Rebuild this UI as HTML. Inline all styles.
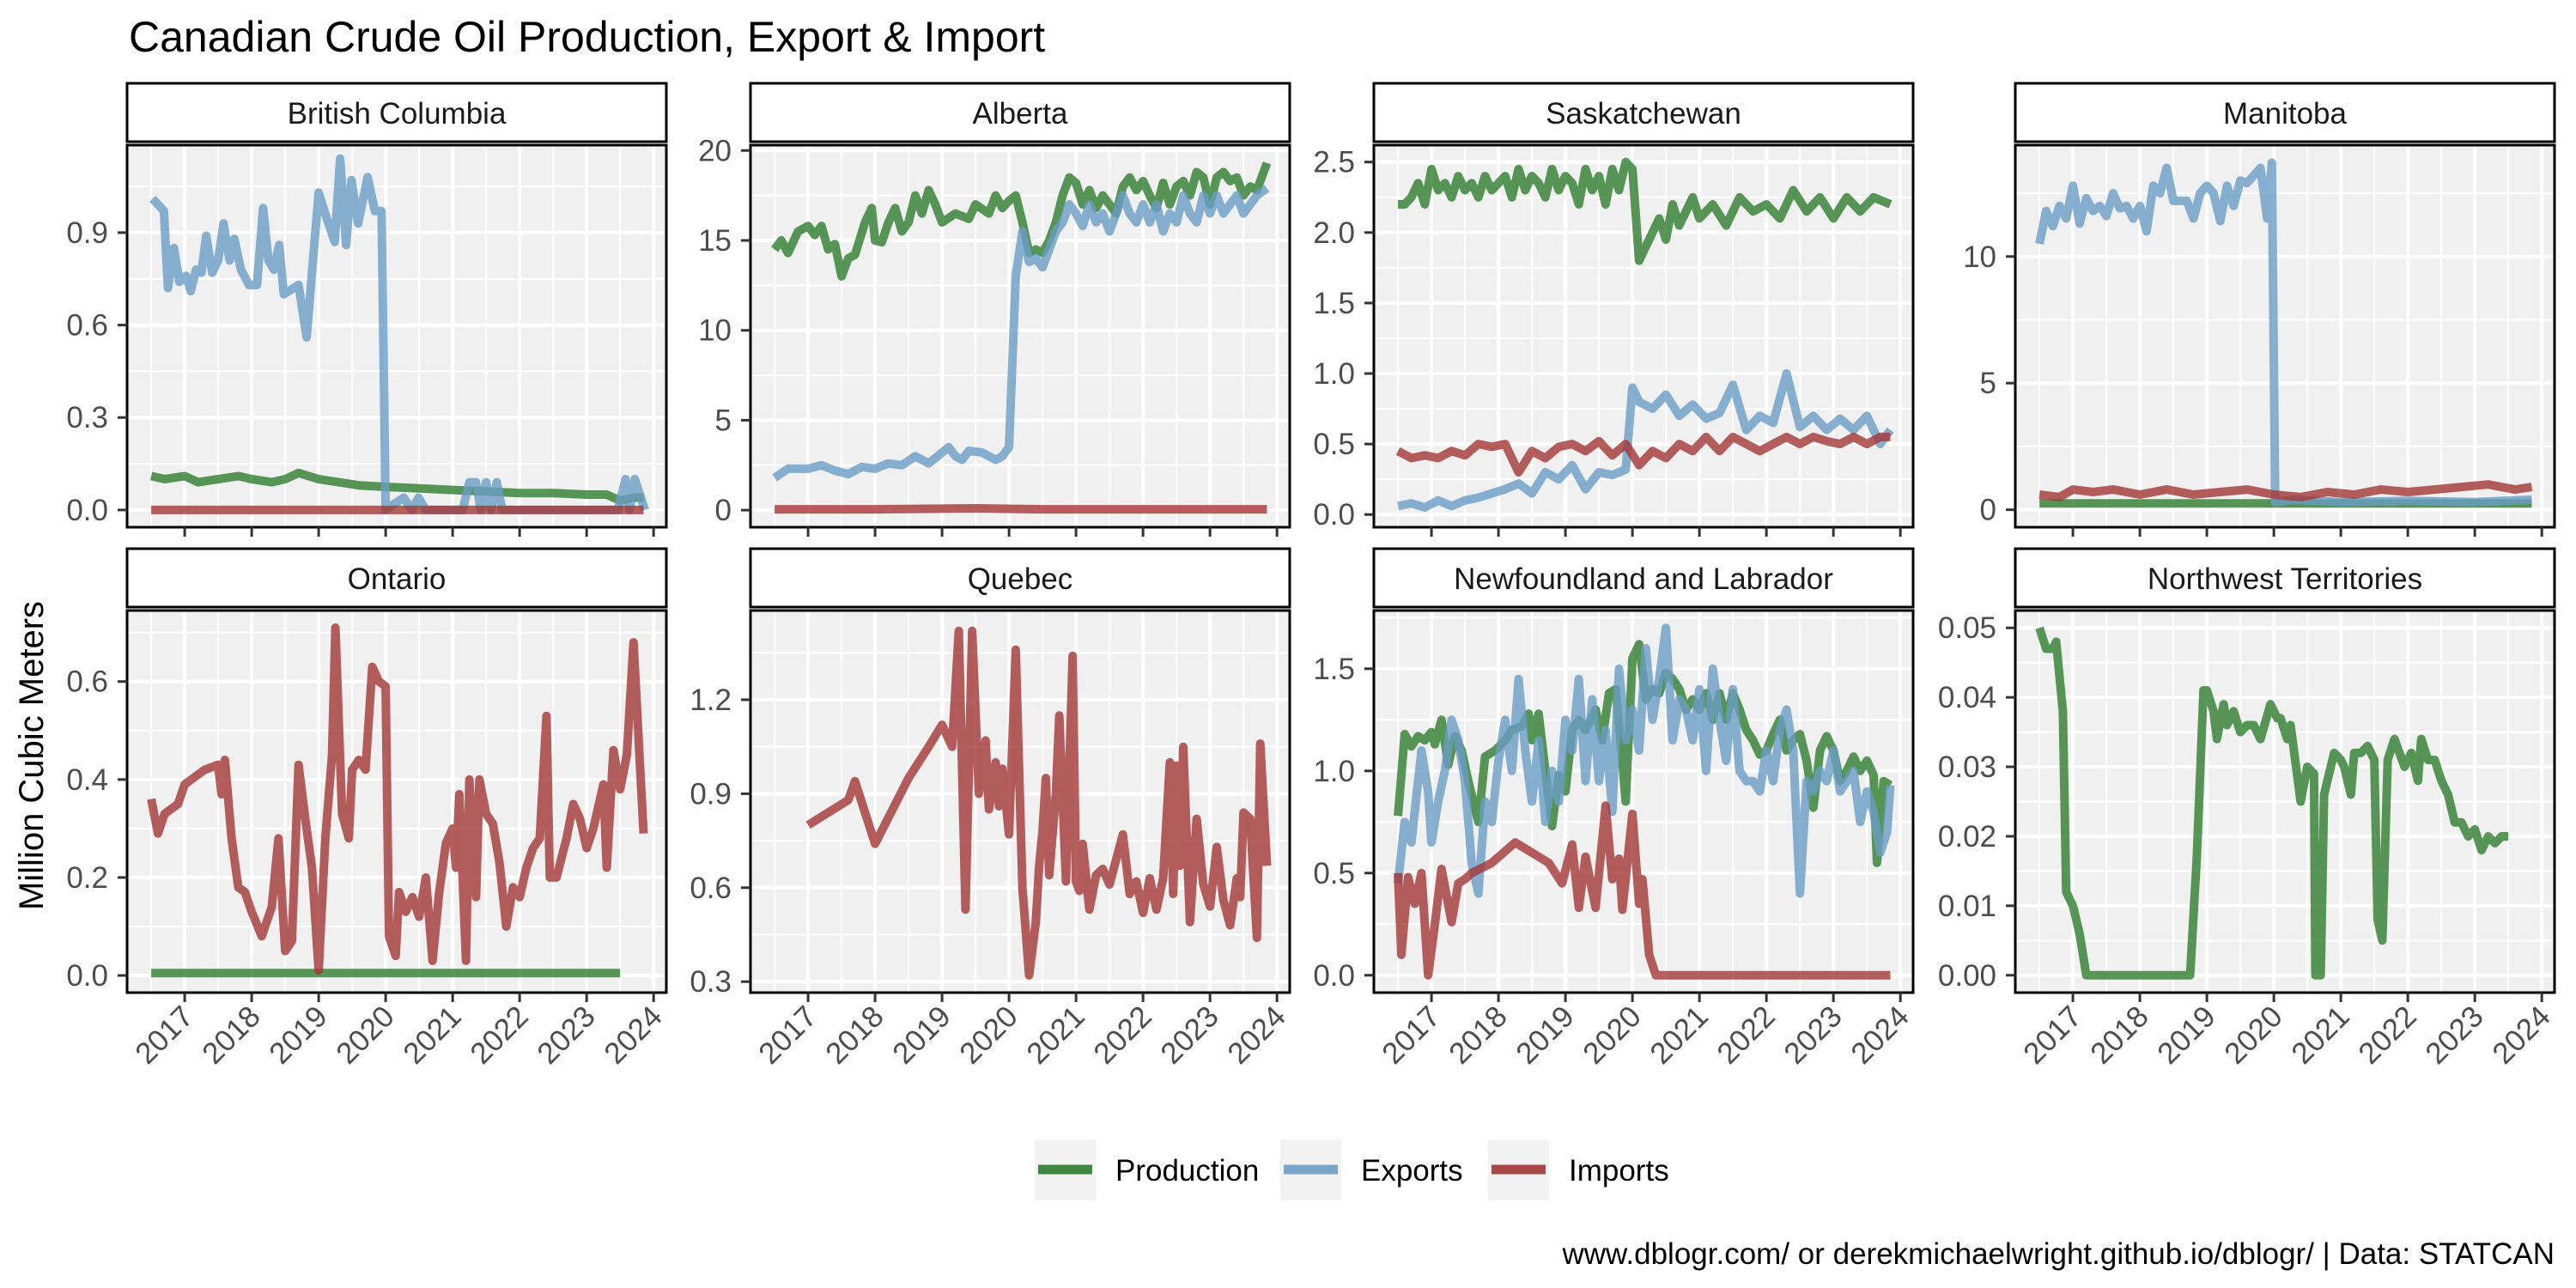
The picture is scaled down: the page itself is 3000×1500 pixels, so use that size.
<!DOCTYPE html>
<html><head><meta charset="utf-8"><style>
html,body{margin:0;padding:0;background:#fff;width:3000px;height:1500px;overflow:hidden}
svg text{font-family:"Liberation Sans",sans-serif}
</style></head><body>
<svg id="chart" xmlns="http://www.w3.org/2000/svg" width="3000" height="1500" viewBox="0 0 3000 1500">
<rect width="3000" height="1500" fill="#fff"/>
<text x="150" y="60" font-size="50" fill="#000">Canadian Crude Oil Production, Export &amp; Import</text>
<text transform="translate(50,880) rotate(-90)" text-anchor="middle" font-size="40" fill="#000">Million Cubic Meters</text>
<g id="panels"></g>
<g>
<rect x="1205" y="1327" width="71" height="71" fill="#f2f2f2"/>
<line x1="1209" y1="1362" x2="1272" y2="1362" stroke="#3f883f" stroke-width="11"/>
<text x="1299" y="1375" font-size="35" fill="#000">Production</text>
<rect x="1491" y="1327" width="71" height="71" fill="#f2f2f2"/>
<line x1="1495" y1="1362" x2="1558" y2="1362" stroke="#78a6cb" stroke-width="11"/>
<text x="1585" y="1375" font-size="35" fill="#000">Exports</text>
<rect x="1733" y="1327" width="71" height="71" fill="#f2f2f2"/>
<line x1="1737" y1="1362" x2="1800" y2="1362" stroke="#a94747" stroke-width="11"/>
<text x="1827" y="1375" font-size="35" fill="#000">Imports</text>
</g>
<text x="2975" y="1472" text-anchor="end" font-size="35" fill="#000">www.dblogr.com/ or derekmichaelwright.github.io/dblogr/ | Data: STATCAN</text>
</svg>
<script>
const panelNames = ["British Columbia","Alberta","Saskatchewan","Manitoba","Ontario","Quebec","Newfoundland and Labrador","Northwest Territories"];
const yTicks = [[0,0.3,0.6,0.9],[0,5,10,15,20],[0,0.5,1,1.5,2,2.5],[0,5,10],[0,0.2,0.4,0.6],[0.3,0.6,0.9,1.2],[0,0.5,1,1.5],[0,0.01,0.02,0.03,0.04,0.05]];
const yTickLabels = [["0.0","0.3","0.6","0.9"],["0","5","10","15","20"],["0.0","0.5","1.0","1.5","2.0","2.5"],["0","5","10"],["0.0","0.2","0.4","0.6"],["0.3","0.6","0.9","1.2"],["0.0","0.5","1.0","1.5"],["0.00","0.01","0.02","0.03","0.04","0.05"]];
const yDomains = [[-0.056,1.184],[-0.95,20.3],[-0.09,2.62],[-0.69,14.4],[-0.035,0.745],[0.265,1.485],[-0.085,1.785],[-0.0025,0.0525]];
const xYears = [2017,2018,2019,2020,2021,2022,2023,2024];
const xDomain = [2016.14,2024.19];

// BC
const bcProdX=[2016.5,2016.7,2017.0,2017.2,2017.5,2017.8,2018.0,2018.3,2018.5,2018.7,2019.0,2019.3,2019.6,2020.0,2020.5,2021.0,2021.5,2022.0,2022.5,2023.0,2023.3,2023.5,2023.7,2023.85];
const bcProdY=[0.11,0.10,0.11,0.09,0.10,0.11,0.10,0.09,0.10,0.12,0.10,0.09,0.08,0.075,0.07,0.065,0.06,0.055,0.055,0.05,0.05,0.03,0.04,0.04];
const bcExpX=[2016.52,2016.65,2016.69,2016.75,2016.84,2016.92,2017.02,2017.09,2017.17,2017.25,2017.32,2017.41,2017.5,2017.58,2017.67,2017.74,2017.84,2017.96,2018.08,2018.17,2018.25,2018.33,2018.41,2018.48,2018.7,2018.82,2019.0,2019.1,2019.24,2019.32,2019.41,2019.49,2019.59,2019.73,2019.84,2019.94,2020.0,2020.13,2020.27,2020.39,2020.49,2020.6,2021.15,2021.25,2021.35,2021.42,2021.5,2021.57,2021.66,2021.74,2023.47,2023.58,2023.64,2023.72,2023.87];
const bcExpY=[1.01,0.98,0.97,0.72,0.85,0.74,0.76,0.71,0.78,0.77,0.89,0.77,0.81,0.93,0.81,0.88,0.78,0.73,0.73,0.98,0.81,0.78,0.86,0.70,0.73,0.56,1.03,0.96,0.87,1.14,0.86,1.07,0.93,1.08,0.97,0.97,0.0,0.02,0.04,0.0,0.04,0.0,0.0,0.09,0.09,0.0,0.09,0.0,0.09,0.0,0.0,0.1,0.0,0.1,0.0];
const bcImpX=[2016.5,2023.85];
const bcImpY=[0,0];
// Alberta
const abProdX=[2016.5,2016.6,2016.7,2016.85,2017.0,2017.1,2017.2,2017.3,2017.4,2017.5,2017.6,2017.7,2017.85,2017.95,2018.0,2018.1,2018.2,2018.3,2018.4,2018.5,2018.6,2018.7,2018.8,2018.9,2019.0,2019.2,2019.4,2019.5,2019.7,2019.8,2019.9,2020.0,2020.1,2020.2,2020.3,2020.4,2020.5,2020.6,2020.7,2020.8,2020.9,2021.0,2021.1,2021.2,2021.3,2021.4,2021.5,2021.6,2021.7,2021.8,2021.9,2022.0,2022.1,2022.2,2022.3,2022.4,2022.5,2022.6,2022.7,2022.8,2022.9,2023.0,2023.1,2023.2,2023.3,2023.4,2023.5,2023.6,2023.7,2023.85];
const abProdY=[14.5,15,14.3,15.5,15.8,15.3,15.8,14.5,14.8,13.0,14.0,14.2,16.0,16.8,15.0,14.9,16.0,16.8,15.5,16.0,17.5,16.5,17.8,17.0,16.0,16.5,16.2,17.0,16.5,17.5,16.8,17.2,17.5,16.0,14.3,14.5,14.3,15.0,16.0,17.5,18.5,18.2,17.0,17.8,16.8,17.5,17.0,16.5,18.0,18.5,17.8,18.3,17.5,16.8,18.2,17.0,18.0,18.3,17.5,18.8,18.5,17.0,18.5,18.8,18.3,18.5,17.5,18.0,17.8,19.3];
const abExpX=[2016.5,2016.7,2017.0,2017.2,2017.4,2017.6,2017.8,2018.0,2018.2,2018.4,2018.6,2018.8,2019.0,2019.1,2019.2,2019.3,2019.4,2019.6,2019.8,2019.9,2020.0,2020.1,2020.2,2020.3,2020.4,2020.5,2020.6,2020.7,2020.8,2020.9,2021.0,2021.1,2021.2,2021.3,2021.4,2021.5,2021.6,2021.7,2021.8,2021.9,2022.0,2022.1,2022.2,2022.3,2022.4,2022.5,2022.6,2022.7,2022.8,2022.9,2023.0,2023.1,2023.2,2023.3,2023.4,2023.5,2023.6,2023.7,2023.85];
const abExpY=[1.8,2.3,2.3,2.5,2.2,2.0,2.4,2.3,2.6,2.5,3.0,2.6,3.2,3.5,3.0,2.8,3.3,3.2,2.8,3.0,3.5,13.0,15.5,13.8,14.0,13.5,14.5,15.5,16.0,17.0,16.5,15.8,17.0,16.0,16.5,15.5,16.5,17.5,16.5,16.0,17.0,16.0,17.0,15.5,16.5,16.0,17.5,16.5,16.0,17.5,16.5,17.5,16.5,17.0,17.5,16.5,17.0,17.5,17.9];
const abImpX=[2016.5,2018.0,2019.5,2020.5,2022.0,2023.85];
const abImpY=[0.05,0.05,0.1,0.05,0.05,0.05];
// Saskatchewan
const skProdX=[2016.5,2016.6,2016.7,2016.8,2016.9,2017.0,2017.1,2017.2,2017.3,2017.4,2017.5,2017.6,2017.7,2017.8,2017.9,2018.0,2018.1,2018.2,2018.3,2018.4,2018.5,2018.6,2018.7,2018.8,2018.9,2019.0,2019.1,2019.2,2019.3,2019.4,2019.5,2019.6,2019.7,2019.8,2019.9,2020.0,2020.1,2020.2,2020.3,2020.4,2020.5,2020.6,2020.7,2020.8,2020.9,2021.0,2021.2,2021.4,2021.6,2021.8,2022.0,2022.2,2022.4,2022.6,2022.8,2023.0,2023.2,2023.4,2023.6,2023.85];
const skProdY=[2.2,2.2,2.25,2.35,2.2,2.45,2.3,2.35,2.25,2.4,2.3,2.35,2.25,2.4,2.3,2.35,2.4,2.25,2.45,2.3,2.4,2.35,2.25,2.45,2.3,2.4,2.35,2.2,2.45,2.3,2.4,2.2,2.45,2.3,2.5,2.45,1.8,1.9,2.0,2.1,1.95,2.2,2.05,2.15,2.25,2.1,2.2,2.05,2.25,2.15,2.2,2.1,2.3,2.15,2.25,2.1,2.25,2.15,2.25,2.2];
const skExpX=[2016.5,2016.7,2016.9,2017.1,2017.3,2017.5,2017.7,2017.9,2018.1,2018.3,2018.5,2018.7,2018.9,2019.1,2019.3,2019.5,2019.7,2019.9,2020.0,2020.1,2020.3,2020.5,2020.7,2020.9,2021.1,2021.3,2021.5,2021.7,2021.9,2022.1,2022.3,2022.5,2022.7,2022.9,2023.1,2023.3,2023.5,2023.7,2023.85];
const skExpY=[0.06,0.08,0.05,0.1,0.06,0.1,0.12,0.15,0.18,0.22,0.15,0.3,0.25,0.35,0.18,0.3,0.28,0.32,0.9,0.8,0.75,0.85,0.7,0.78,0.68,0.72,0.92,0.6,0.7,0.65,1.0,0.62,0.7,0.6,0.68,0.6,0.7,0.5,0.6];
const skImpX=[2016.5,2016.7,2016.9,2017.1,2017.3,2017.5,2017.7,2017.9,2018.1,2018.3,2018.5,2018.7,2018.9,2019.1,2019.3,2019.5,2019.7,2019.9,2020.1,2020.3,2020.5,2020.7,2020.9,2021.1,2021.3,2021.5,2021.7,2021.9,2022.1,2022.3,2022.5,2022.7,2022.9,2023.1,2023.3,2023.5,2023.7,2023.85];
const skImpY=[0.45,0.4,0.42,0.4,0.45,0.42,0.5,0.48,0.5,0.3,0.45,0.4,0.48,0.5,0.45,0.52,0.42,0.5,0.35,0.45,0.4,0.5,0.45,0.55,0.45,0.55,0.5,0.45,0.5,0.55,0.5,0.55,0.52,0.5,0.55,0.5,0.55,0.55];
// Manitoba
const mbProdX=[2016.5,2023.85];
const mbProdY=[0.25,0.25];
const mbExpX=[2016.5,2016.6,2016.7,2016.8,2016.9,2017.0,2017.1,2017.2,2017.3,2017.4,2017.5,2017.6,2017.7,2017.8,2017.9,2018.0,2018.1,2018.2,2018.3,2018.4,2018.5,2018.6,2018.7,2018.8,2018.9,2019.0,2019.1,2019.2,2019.3,2019.4,2019.5,2019.6,2019.7,2019.8,2019.9,2019.97,2020.02,2020.3,2021.0,2022.0,2023.0,2023.85];
const mbExpY=[10.5,11.8,11.2,12.0,11.5,12.8,11.3,12.3,11.8,12.0,11.6,12.5,11.9,12.0,11.5,12.0,11.0,12.8,12.5,13.5,12.2,12.2,12.2,11.5,12.5,12.8,12.5,11.4,12.8,12.0,13.0,12.9,13.2,13.5,11.5,13.7,0.3,0.4,0.3,0.35,0.3,0.4];
const mbImpX=[2016.5,2016.8,2017.0,2017.3,2017.6,2018.0,2018.4,2018.8,2019.2,2019.6,2020.0,2020.4,2020.8,2021.2,2021.6,2022.0,2022.4,2022.8,2023.2,2023.6,2023.85];
const mbImpY=[0.6,0.5,0.8,0.7,0.8,0.6,0.8,0.6,0.7,0.8,0.6,0.5,0.7,0.6,0.8,0.7,0.8,0.9,1.0,0.8,0.9];
// Ontario
const onProdX=[2016.5,2023.5];
const onProdY=[0.005,0.005];
const onImpX=[2016.5,2016.6,2016.7,2016.9,2017.0,2017.3,2017.5,2017.55,2017.6,2017.7,2017.8,2017.9,2018.0,2018.15,2018.3,2018.4,2018.5,2018.6,2018.7,2018.8,2018.9,2019.0,2019.1,2019.2,2019.25,2019.35,2019.45,2019.5,2019.6,2019.7,2019.8,2019.9,2020.0,2020.05,2020.15,2020.2,2020.3,2020.4,2020.5,2020.6,2020.7,2020.8,2020.9,2021.0,2021.05,2021.1,2021.2,2021.25,2021.35,2021.4,2021.5,2021.6,2021.7,2021.8,2021.9,2022.0,2022.1,2022.2,2022.3,2022.4,2022.45,2022.55,2022.7,2022.8,2022.9,2023.0,2023.1,2023.25,2023.3,2023.4,2023.5,2023.6,2023.7,2023.8,2023.85];
const onImpY=[0.36,0.29,0.33,0.35,0.39,0.42,0.43,0.37,0.44,0.28,0.18,0.17,0.13,0.08,0.14,0.28,0.05,0.07,0.43,0.32,0.22,0.01,0.28,0.45,0.71,0.33,0.28,0.42,0.44,0.42,0.63,0.60,0.59,0.08,0.04,0.17,0.13,0.16,0.12,0.20,0.03,0.17,0.27,0.30,0.22,0.37,0.03,0.40,0.16,0.40,0.33,0.31,0.23,0.10,0.18,0.16,0.22,0.26,0.28,0.53,0.20,0.20,0.28,0.35,0.32,0.26,0.30,0.39,0.22,0.46,0.38,0.45,0.68,0.42,0.29];
// Quebec
const qcImpX=[2017.0,2017.6,2017.7,2018.0,2018.5,2018.8,2019.0,2019.15,2019.25,2019.35,2019.45,2019.55,2019.65,2019.7,2019.8,2019.85,2019.9,2020.0,2020.1,2020.2,2020.3,2020.4,2020.45,2020.5,2020.55,2020.6,2020.7,2020.75,2020.85,2020.95,2021.0,2021.05,2021.1,2021.2,2021.3,2021.4,2021.5,2021.6,2021.7,2021.8,2021.9,2022.0,2022.1,2022.2,2022.3,2022.4,2022.45,2022.5,2022.55,2022.6,2022.7,2022.8,2022.9,2023.0,2023.1,2023.2,2023.3,2023.4,2023.45,2023.5,2023.6,2023.7,2023.75,2023.85];
const qcImpY=[0.80,0.88,0.94,0.74,0.95,1.05,1.12,1.05,1.42,0.53,1.42,0.90,1.07,0.85,1.00,0.86,0.98,0.77,1.36,0.60,0.32,0.49,0.67,0.78,0.95,0.64,0.90,1.15,0.62,1.34,0.62,0.59,0.74,0.53,0.64,0.66,0.61,0.69,0.77,0.58,0.62,0.52,0.63,0.53,0.63,1.00,0.58,0.99,0.67,1.05,0.49,0.82,0.61,0.54,0.73,0.56,0.48,0.63,0.57,0.84,0.82,0.44,1.06,0.67];
// Newfoundland
const nlProdX=[2016.5,2016.6,2016.7,2016.8,2016.9,2017.0,2017.05,2017.15,2017.25,2017.35,2017.45,2017.55,2017.7,2017.8,2017.95,2018.1,2018.2,2018.35,2018.45,2018.5,2018.6,2018.7,2018.8,2018.9,2019.0,2019.1,2019.2,2019.3,2019.45,2019.55,2019.65,2019.75,2019.85,2019.9,2020.0,2020.1,2020.2,2020.3,2020.4,2020.5,2020.6,2020.7,2020.8,2020.9,2021.0,2021.1,2021.2,2021.3,2021.4,2021.5,2021.6,2021.7,2021.8,2021.9,2022.0,2022.1,2022.2,2022.3,2022.4,2022.5,2022.6,2022.7,2022.8,2022.9,2023.0,2023.1,2023.2,2023.3,2023.4,2023.5,2023.6,2023.65,2023.75,2023.85];
const nlProdY=[0.78,1.18,1.12,1.17,1.15,1.19,1.13,1.25,1.03,1.17,1.10,0.95,0.75,1.07,1.10,1.15,1.20,1.22,1.28,1.15,1.28,1.00,0.73,0.98,0.90,1.20,1.25,1.20,1.30,1.15,1.38,1.40,1.05,0.85,1.55,1.62,1.35,1.40,1.38,1.48,1.45,1.40,1.30,1.35,1.30,1.38,1.25,1.38,1.25,1.38,1.30,1.20,1.15,1.08,1.10,1.18,1.25,1.10,1.15,1.18,1.05,0.82,1.10,1.17,1.10,0.95,1.00,1.07,1.00,1.05,0.98,0.55,0.95,0.93];
const nlExpX=[2016.5,2016.6,2016.7,2016.85,2016.95,2017.0,2017.1,2017.2,2017.3,2017.4,2017.5,2017.6,2017.7,2017.8,2017.9,2018.0,2018.1,2018.2,2018.3,2018.4,2018.5,2018.6,2018.7,2018.8,2018.9,2019.0,2019.1,2019.2,2019.3,2019.4,2019.5,2019.6,2019.7,2019.8,2019.9,2020.0,2020.1,2020.2,2020.3,2020.4,2020.5,2020.6,2020.7,2020.8,2020.9,2021.0,2021.1,2021.2,2021.3,2021.4,2021.5,2021.6,2021.7,2021.8,2021.9,2022.0,2022.1,2022.2,2022.3,2022.4,2022.5,2022.6,2022.7,2022.8,2022.9,2023.0,2023.1,2023.2,2023.3,2023.4,2023.5,2023.6,2023.7,2023.8,2023.85];
const nlExpY=[0.45,0.75,0.65,1.10,0.90,0.65,0.85,1.00,1.25,1.15,0.95,0.55,0.40,0.85,0.75,1.05,1.25,1.00,1.45,1.10,0.85,1.15,0.75,1.00,0.85,1.25,1.10,1.45,0.95,1.35,0.95,1.20,0.80,1.50,1.15,1.30,1.10,1.60,1.25,1.45,1.70,1.15,1.35,1.30,1.15,1.40,1.00,1.50,1.25,1.05,1.40,1.00,0.95,0.95,0.90,1.10,0.95,1.20,1.30,1.10,0.40,0.95,0.90,1.00,0.95,1.10,0.90,0.95,1.00,0.75,0.90,0.80,0.60,0.70,0.93];
const nlImpX=[2016.5,2016.55,2016.65,2016.75,2016.85,2016.95,2017.05,2017.15,2017.3,2017.4,2017.5,2017.6,2017.9,2018.25,2018.5,2018.75,2018.95,2019.1,2019.2,2019.3,2019.45,2019.6,2019.7,2019.8,2019.85,2020.0,2020.1,2020.15,2020.25,2020.35,2023.85];
const nlImpY=[0.5,0.1,0.48,0.35,0.5,0.0,0.25,0.52,0.26,0.45,0.47,0.5,0.55,0.65,0.60,0.55,0.45,0.64,0.33,0.58,0.33,0.83,0.47,0.57,0.32,0.79,0.35,0.47,0.10,0.0,0.0];
// NWT
const ntProdX=[2016.5,2016.6,2016.7,2016.75,2016.85,2016.9,2017.0,2017.1,2017.2,2018.75,2018.85,2018.95,2019.0,2019.1,2019.15,2019.25,2019.3,2019.4,2019.5,2019.6,2019.7,2019.8,2019.95,2020.05,2020.1,2020.2,2020.25,2020.4,2020.5,2020.6,2020.62,2020.7,2020.75,2020.9,2021.0,2021.05,2021.15,2021.2,2021.3,2021.4,2021.5,2021.55,2021.62,2021.7,2021.8,2021.95,2022.05,2022.15,2022.2,2022.3,2022.4,2022.5,2022.6,2022.7,2022.8,2022.9,2023.0,2023.1,2023.2,2023.3,2023.4,2023.5];
const ntProdY=[0.050,0.047,0.047,0.048,0.038,0.012,0.010,0.006,0.0,0.0,0.017,0.041,0.041,0.038,0.034,0.039,0.036,0.038,0.035,0.036,0.036,0.034,0.039,0.037,0.037,0.034,0.036,0.025,0.030,0.029,0.0,0.0,0.026,0.032,0.031,0.030,0.026,0.032,0.032,0.033,0.031,0.008,0.005,0.031,0.034,0.030,0.032,0.028,0.034,0.031,0.031,0.028,0.026,0.022,0.022,0.020,0.021,0.018,0.020,0.019,0.020,0.020];

const series = [
 [[bcProdX,bcProdY],[bcExpX,bcExpY],[bcImpX,bcImpY]],
 [[abProdX,abProdY],[abExpX,abExpY],[abImpX,abImpY]],
 [[skProdX,skProdY],[skExpX,skExpY],[skImpX,skImpY]],
 [[mbProdX,mbProdY],[mbExpX,mbExpY],[mbImpX,mbImpY]],
 [[onProdX,onProdY],null,[onImpX,onImpY]],
 [null,null,[qcImpX,qcImpY]],
 [[nlProdX,nlProdY],[nlExpX,nlExpY],[nlImpX,nlImpY]],
 [[ntProdX,ntProdY],null,null]
];
const seriesNames=["production","exports","imports"];
const colors=["#2f7d2f","#6a9cc6","#a23636"];

const NS="http://www.w3.org/2000/svg";
const colLeft=[148,874,1600,2347], W=628, stripTops=[97,639], stripH=68, plotTops=[169,711], H=445;
const root=document.getElementById('panels');
function mk(tag,attrs,parent){const e=document.createElementNS(NS,tag);for(const k in attrs)e.setAttribute(k,attrs[k]);parent.appendChild(e);return e;}

panelNames.forEach((name,i)=>{
  const r=Math.floor(i/4), c=i%4;
  const L=colLeft[c], T=plotTops[r];
  const g=mk('g',{},root);
  
  
  const xs=v=>L+(v-xDomain[0])/(xDomain[1]-xDomain[0])*W;
  const yd=yDomains[i];
  const ys=v=>T+H-(v-yd[0])/(yd[1]-yd[0])*H;
  mk('rect',{x:L,y:T,width:W,height:H,fill:'#f0f0f0'},g);
  const yt=yTicks[i], step=yt[1]-yt[0];
  for(let k=-1;k<yt.length;k++){const v=yt[0]+(k+0.5)*step;if(v>yd[0]&&v<yd[1])mk('line',{x1:L,x2:L+W,y1:ys(v),y2:ys(v),stroke:'#fff','stroke-width':2},g);}
  xYears.forEach(y=>{const v=y-0.5;if(v>xDomain[0])mk('line',{x1:xs(v),x2:xs(v),y1:T,y2:T+H,stroke:'#fff','stroke-width':2},g);});
  yt.forEach(v=>mk('line',{x1:L,x2:L+W,y1:ys(v),y2:ys(v),stroke:'#fff','stroke-width':4},g));
  xYears.forEach(y=>{if(y<xDomain[1])mk('line',{x1:xs(y),x2:xs(y),y1:T,y2:T+H,stroke:'#fff','stroke-width':4},g);});
  series[i].forEach((s,j)=>{
    if(!s)return;
    const d=s[0].map((x,k)=>(k?'L':'M')+xs(x).toFixed(1)+','+ys(s[1][k]).toFixed(1)).join('');
    const p=mk('path',{d:d,fill:'none',stroke:colors[j],'stroke-width':10,'stroke-opacity':0.8,'stroke-linejoin':'round'},g);
    
    
  });
  mk('rect',{x:L,y:T,width:W,height:H,fill:'none',stroke:'#000','stroke-width':3},g);
  const st=mk('rect',{x:L,y:stripTops[r],width:W,height:stripH,fill:'#fff',stroke:'#000','stroke-width':3},g);
  
  
  const tx=mk('text',{x:L+W/2,y:stripTops[r]+47,'text-anchor':'middle','font-size':35,fill:'#1a1a1a'},g);
  tx.textContent=name;
  
  
  yt.forEach((v,k)=>{
    mk('line',{x1:L-11,x2:L,y1:ys(v),y2:ys(v),stroke:'#333','stroke-width':3},g);
    const t=mk('text',{x:L-22,y:ys(v)+12,'text-anchor':'end','font-size':35,fill:'#4d4d4d'},g);
    t.textContent=yTickLabels[i][k];
    
    
  });
  xYears.forEach(y=>{
    const x=xs(y);
    mk('line',{x1:x,x2:x,y1:T+H,y2:T+H+11,stroke:'#333','stroke-width':3},g);
    if(r===1){
      const t=mk('text',{transform:`translate(${x+12},${T+H+30}) rotate(-45)`,'text-anchor':'end','font-size':35,fill:'#4d4d4d'},g);
      t.textContent=String(y);
      
      
    }
  });
});
</script>
</body></html>
